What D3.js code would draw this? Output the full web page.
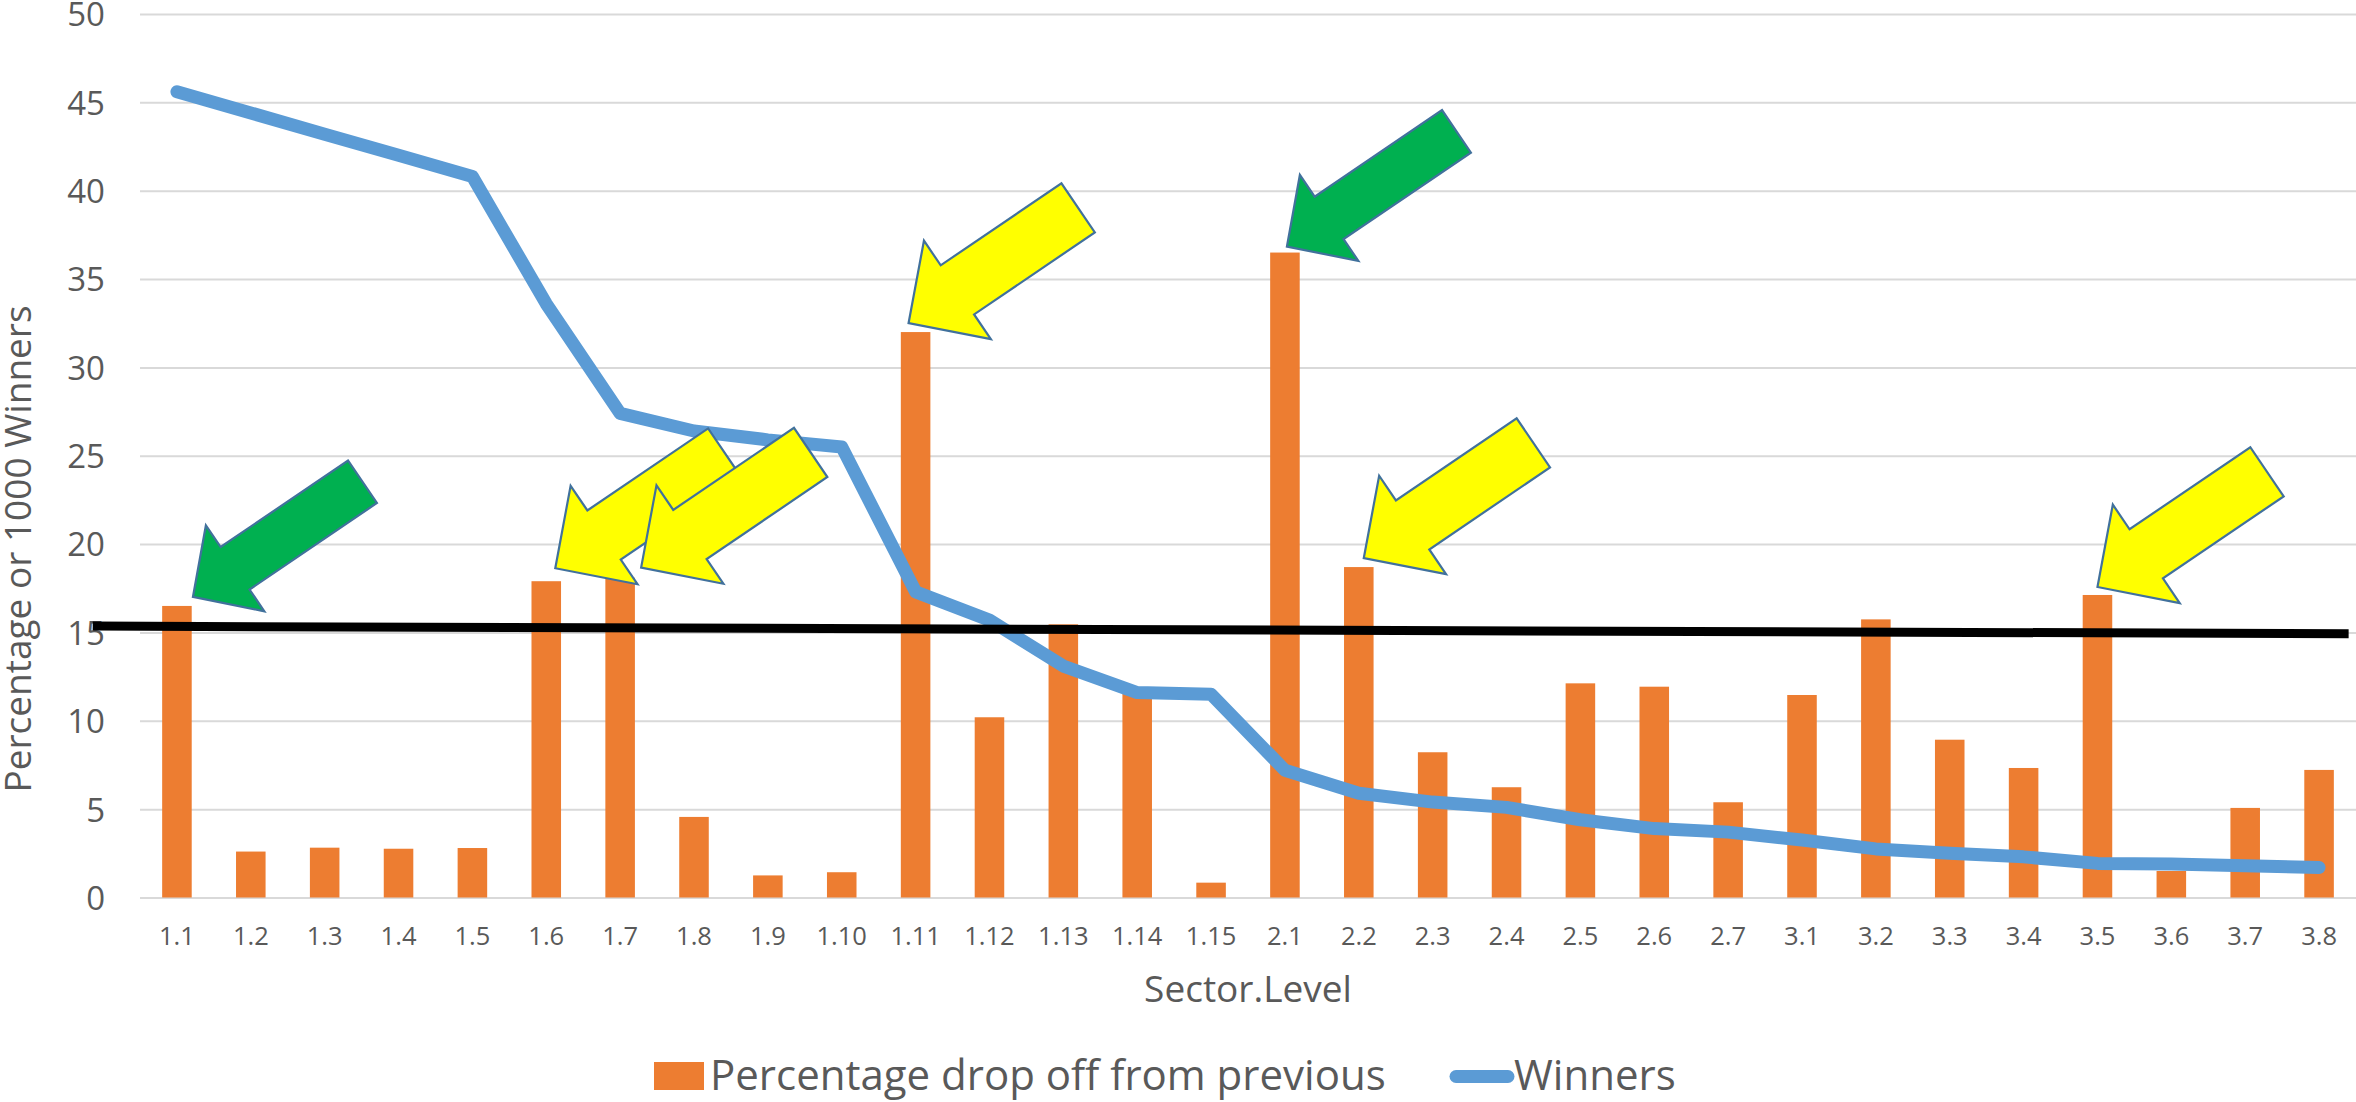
<!DOCTYPE html>
<html>
<head>
<meta charset="utf-8">
<script src="https://cdn.jsdelivr.net/npm/d3@7"></script>
<style>
  body { margin: 0; background: #fff; }
  text { font-family: "Open Sans", "Noto Sans", sans-serif; fill: #595959; }
</style>
</head>
<body>
<div id="chart"></div>
<script>
// categories along the x axis (Sector.Level)
var categories = ["1.1", "1.2", "1.3", "1.4", "1.5", "1.6", "1.7", "1.8", "1.9", "1.10",
  "1.11", "1.12", "1.13", "1.14", "1.15", "2.1", "2.2", "2.3", "2.4", "2.5", "2.6", "2.7",
  "3.1", "3.2", "3.3", "3.4", "3.5", "3.6", "3.7", "3.8"];

// bars: percentage drop off from previous
var dropOff = [16.5, 2.6, 2.82, 2.76, 2.8, 17.9, 18.1, 4.56, 1.25, 1.43,
  32.0, 10.2, 15.46, 11.6, 0.84, 36.5, 18.7, 8.22, 6.24, 12.12, 11.93, 5.39,
  11.46, 15.74, 8.93, 7.33, 17.12, 1.5, 5.07, 7.22];

// line: winners (per 1000)
var winners = [45.6, 44.4, 43.2, 42.0, 40.8, 33.6, 27.4, 26.4, 25.9, 25.5,
  17.3, 15.7, 13.1, 11.6, 11.5, 7.2, 5.9, 5.4, 5.1, 4.4, 3.9, 3.7,
  3.25, 2.75, 2.5, 2.3, 1.93, 1.9, 1.8, 1.7];

var yTicks = [0, 5, 10, 15, 20, 25, 30, 35, 40, 45, 50];

// hand drawn threshold line (value at start and end, in category slots)
var thresholdSlots = [-0.64, 29.9];
var thresholdValues = [15.36, 14.93];

// arrows pointing at bars
var arrowTargets = ["1.1", "1.6", "1.7", "1.11", "2.1", "2.2", "3.5"];
var arrowKinds = ["green", "yellow", "yellow", "yellow", "green", "yellow", "yellow"];

var legendLabels = ["Percentage drop off from previous", "Winners"];

var svgWidth = 2356;
var svgHeight = 1102;
var plotLeft = 140, plotRight = 2356, plotTop = 14, plotBottom = 897.5;

var svg = d3.select("#chart")
  .append("svg")
  .attr("width", svgWidth)
  .attr("height", svgHeight);

var x = d3.scaleBand()
  .domain(categories)
  .range([plotLeft, plotRight])
  .paddingInner(0.6)
  .paddingOuter(0.3);

var slot = d3.scaleLinear()
  .domain([0, categories.length])
  .range([plotLeft, plotRight]);

var y = d3.scaleLinear()
  .domain([0, 50])
  .range([plotBottom, plotTop]);

// gridlines + y labels
var yAxis = d3.axisLeft(y)
  .tickValues(yTicks)
  .tickSize(-(plotRight - plotLeft))
  .tickPadding(35);

var yG = svg.append("g")
  .attr("transform", `translate(${plotLeft},0)`)
  .call(yAxis);
yG.select(".domain").remove();
yG.selectAll("line").attr("stroke", "#D9D9D9").attr("stroke-width", 2);
yG.selectAll("text")
  .attr("dy", "0.36em")
  .style("font-size", "33px")
  .attr("fill", "#595959");

// x labels
var xAxis = d3.axisBottom(x).tickSize(0);
var xG = svg.append("g")
  .attr("transform", `translate(0,${plotBottom})`)
  .call(xAxis);
xG.select(".domain").remove();
xG.selectAll("text")
  .attr("y", 47.5)
  .attr("dy", 0)
  .style("font-size", "25.5px")
  .attr("fill", "#595959");

// bars
svg.append("g").selectAll("rect")
  .data(categories)
  .enter()
  .append("rect")
  .attr("x", d => x(d))
  .attr("width", x.bandwidth())
  .attr("y", (d, i) => y(dropOff[i]))
  .attr("height", (d, i) => plotBottom - y(dropOff[i]))
  .attr("fill", "#ED7D31");

// winners line
var line = d3.line()
  .x((d, i) => x(categories[i]) + x.bandwidth() / 2)
  .y(d => y(d));

svg.append("path")
  .datum(winners)
  .attr("d", line)
  .attr("fill", "none")
  .attr("stroke", "#5B9BD5")
  .attr("stroke-width", 13)
  .attr("stroke-linejoin", "round")
  .attr("stroke-linecap", "round");

// threshold line
svg.append("line")
  .attr("x1", slot(thresholdSlots[0]))
  .attr("x2", slot(thresholdSlots[1]))
  .attr("y1", y(thresholdValues[0]))
  .attr("y2", y(thresholdValues[1]))
  .attr("stroke", "#000")
  .attr("stroke-width", 9);

// arrows
var arrowStyle = {
  green: { fill: "#00B050", shaft: 25.7, head: 52, headLen: 51 },
  yellow: { fill: "#FFFF00", shaft: 29.7, head: 59.5, headLen: 59 }
};
var arrowNudge = { "1.1": [16, -9], "1.6": [9, -13], "1.7": [21, -10], "1.11": [-7, -9],
  "2.1": [2, -6], "2.2": [5, -9], "3.5": [0, -8] };
var arrowLen = 205;
var back = [0.827, -0.562];   // tip -> tail direction
var across = [0.562, 0.827];

function arrowPoints(tx, ty, st) {
  var local = [[0, 0], [st.headLen, -st.head], [st.headLen, -st.shaft], [arrowLen, -st.shaft],
    [arrowLen, st.shaft], [st.headLen, st.shaft], [st.headLen, st.head]];
  return local.map(p => [tx + p[0] * back[0] + p[1] * across[0],
                         ty + p[0] * back[1] + p[1] * across[1]]);
}

svg.append("g").selectAll("path")
  .data(arrowTargets)
  .enter()
  .append("path")
  .attr("d", (d, i) => {
    var idx = categories.indexOf(d);
    var tx = x(d) + x.bandwidth() / 2 + arrowNudge[d][0];
    var ty = y(dropOff[idx]) + arrowNudge[d][1];
    return "M" + arrowPoints(tx, ty, arrowStyle[arrowKinds[i]]).join("L") + "Z";
  })
  .attr("fill", (d, i) => arrowStyle[arrowKinds[i]].fill)
  .attr("stroke", "#41719C")
  .attr("stroke-width", 2.2)
  .attr("stroke-linejoin", "miter");

// axis titles
svg.append("text")
  .attr("x", (plotLeft + plotRight) / 2)
  .attr("y", 1002)
  .attr("text-anchor", "middle")
  .style("font-size", "37px")
  .text("Sector.Level");

svg.append("text")
  .attr("transform", "translate(31,549) rotate(-90)")
  .attr("text-anchor", "middle")
  .style("font-size", "37px")
  .text("Percentage or 1000 Winners");

// legend
var legend = svg.append("g");
legend.append("rect")
  .attr("x", 654).attr("y", 1062)
  .attr("width", 50).attr("height", 28)
  .attr("fill", "#ED7D31");
legend.append("text")
  .attr("x", 710).attr("y", 1090)
  .style("font-size", "42px")
  .text(legendLabels[0]);
legend.append("line")
  .attr("x1", 1456).attr("x2", 1508)
  .attr("y1", 1076.5).attr("y2", 1076.5)
  .attr("stroke", "#5B9BD5")
  .attr("stroke-width", 13)
  .attr("stroke-linecap", "round");
legend.append("text")
  .attr("x", 1514).attr("y", 1090)
  .style("font-size", "42px")
  .text(legendLabels[1]);
</script>
</body>
</html>
